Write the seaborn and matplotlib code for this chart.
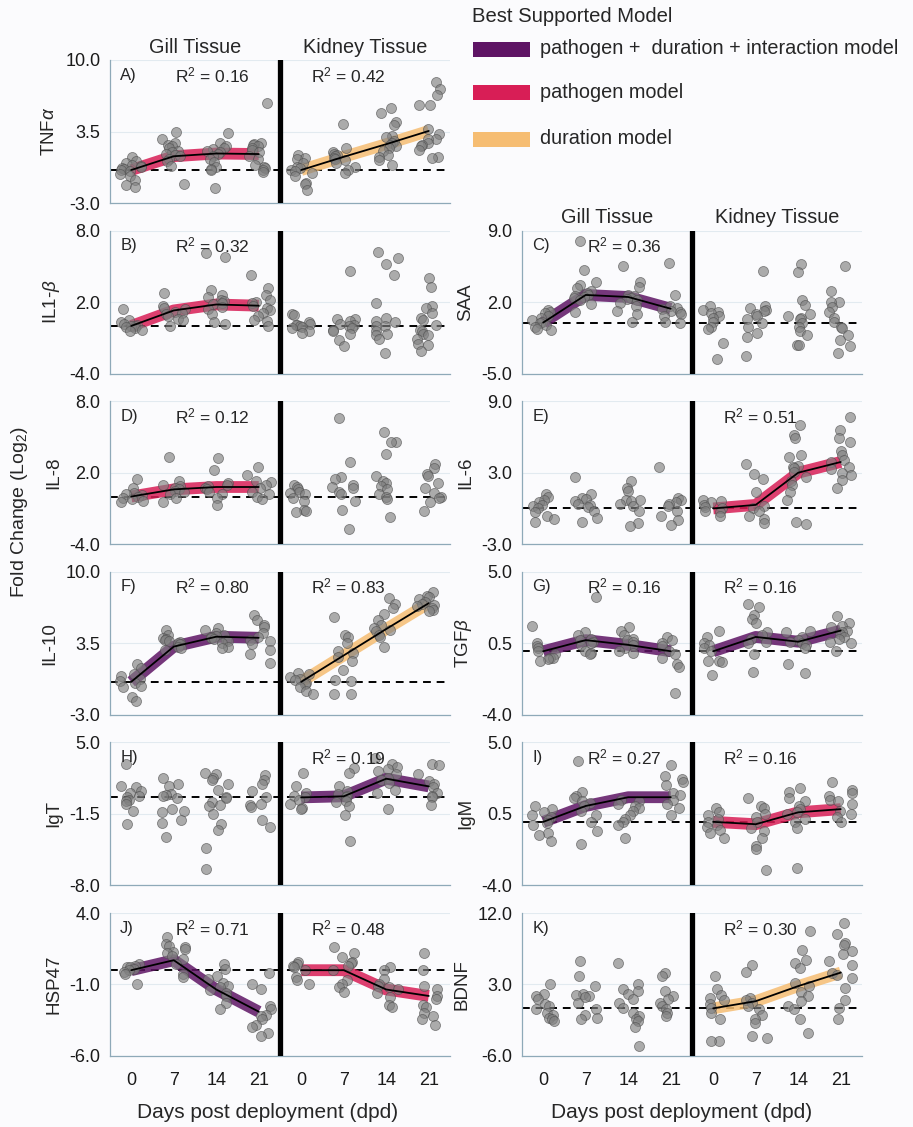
import numpy as np
import pandas as pd
import matplotlib
matplotlib.use("Agg")
import matplotlib.pyplot as plt
import matplotlib.transforms as mtransforms
from matplotlib.patches import Rectangle
import seaborn as sns

# ---------------- data ----------------
DAY_LABELS = ["0", "7", "14", "21"]
TISSUES = ["Gill Tissue", "Kidney Tissue"]
LEGEND_TITLE = "Best Supported Model"
MODEL_NAMES = ["pathogen +  duration + interaction model", "pathogen model", "duration model"]
MODEL_KEYS = ["interaction", "pathogen", "duration"]

TNFA_GILL = [
    [1.2, 0.8, 0.6, 0.5, 0.4, 0.3, 0.2, 0.1, 0.0, -0.1, -0.4, -0.5, -0.9, -1.4, -1.5],
    [3.5, 2.8, 2.5, 2.3, 2.2, 2.0, 1.7, 1.6, 1.5, 1.4, 1.3, 1.0, 0.8, 0.4, -1.3],
    [3.4, 2.5, 2.2, 2.0, 1.9, 1.7, 1.6, 1.5, 1.3, 1.0, 0.7, 0.3, 0.1, 0.0, -1.6],
    [6.1, 2.5, 2.4, 2.3, 2.2, 2.0, 1.8, 1.6, 1.3, 1.0, 0.5, 0.3, 0.2, 0.0, -0.2],
]
TNFA_KIDNEY = [
    [1.4, 1.1, 1.0, 0.6, 0.3, 0.2, 0.0, -0.1, -0.3, -0.5, -1.2, -1.3, -1.8],
    [4.2, 2.0, 1.6, 1.5, 1.4, 1.3, 1.1, 1.0, 0.9, 0.6, 0.3, 0.0, -0.3],
    [5.6, 5.2, 4.4, 4.1, 3.1, 3.0, 2.6, 2.5, 2.3, 2.2, 2.0, 1.7, 1.4, 1.2, 0.9, 0.5],
    [8.0, 7.4, 6.8, 5.9, 5.9, 3.7, 3.3, 2.8, 2.8, 2.5, 2.3, 2.2, 1.8, 1.2, 1.1],
]
TNFA_GILL_FIT = [0.0, 1.25, 1.5, 1.45]
TNFA_KIDNEY_FIT = [0.0, 1.2, 2.35, 3.55]

IL1B_GILL = [
    [1.4, 0.5, 0.3, 0.2, 0.1, 0.0, 0.0, -0.1, -0.2, -0.3, -0.4],
    [2.8, 1.7, 1.5, 1.4, 1.2, 1.1, 1.0, 0.8, 0.6, 0.5, 0.0],
    [6.1, 5.8, 3.0, 2.6, 2.4, 2.2, 2.1, 1.9, 1.8, 1.6, 1.4, 1.0, 0.3, 0.2],
    [4.3, 3.2, 2.6, 2.2, 2.0, 1.9, 1.7, 1.5, 1.3, 1.1, 0.8, 0.5, 0.4, 0.0],
]
IL1B_KIDNEY = [
    [1.0, 0.9, 0.3, 0.2, 0.1, 0.1, 0.0, -0.1, -0.2, -0.4, -0.6],
    [4.6, 0.6, 0.6, 0.4, 0.2, 0.1, 0.0, -0.2, -0.3, -0.4, -0.7, -1.2, -1.7],
    [6.2, 5.7, 5.2, 4.3, 1.9, 0.7, 0.4, 0.3, 0.0, 0.0, -0.4, -0.7, -0.8, -1.1, -2.3],
    [4.0, 3.3, 1.7, 1.5, 1.1, 0.7, 0.5, 0.1, -0.3, -0.4, -0.7, -0.8, -1.1, -1.5, -1.6, -2.1],
]
IL1B_GILL_FIT = [0.0, 1.3, 1.8, 1.7]

SAA_GILL = [
    [1.2, 1.0, 0.9, 0.6, 0.4, 0.2, 0.1, 0.0, -0.2, -0.4, -0.6, -0.7],
    [8.0, 5.1, 4.0, 3.7, 3.4, 3.1, 2.9, 2.7, 2.6, 2.5, 2.4, 2.2, 1.8, 1.0],
    [5.5, 4.0, 3.5, 2.7, 2.6, 2.4, 2.3, 2.2, 1.9, 1.6, 1.1, 0.8, 0.1],
    [5.8, 2.7, 1.6, 1.4, 1.3, 1.1, 1.0, 0.8, 0.6, 0.1, 0.0],
]
SAA_KIDNEY = [
    [1.6, 1.2, 1.0, 0.9, 0.6, 0.4, 0.1, -0.4, -0.6, -2.0, -3.6],
    [5.0, 1.6, 1.4, 1.2, 1.1, 0.8, 0.6, 0.3, 0.0, -0.4, -1.0, -1.4, -3.3],
    [5.7, 4.9, 2.2, 1.7, 0.8, 0.6, 0.4, 0.3, 0.0, -0.4, -0.8, -1.2, -2.2, -2.2],
    [5.5, 3.1, 2.0, 2.0, 1.5, 1.0, 0.4, 0.1, -0.4, -0.5, -1.2, -1.7, -2.3, -3.0],
]
SAA_GILL_FIT = [0.0, 2.7, 2.5, 1.35]

IL8_GILL = [
    [1.5, 0.7, 0.3, 0.2, 0.1, 0.0, -0.1, -0.2, -0.4, -0.5],
    [3.3, 1.3, 1.0, 0.9, 0.7, 0.6, 0.5, 0.4, 0.2, -0.1, -0.5],
    [3.2, 2.2, 1.1, 1.0, 0.9, 0.7, 0.6, 0.4, 0.2, -0.1, -0.7],
    [2.5, 1.8, 1.3, 1.2, 1.0, 0.7, 0.4, 0.2, 0.0, -0.2],
]
IL8_KIDNEY = [
    [1.0, 0.8, 0.6, 0.4, 0.3, 0.2, -0.1, -0.4, -1.1, -1.2, -1.3],
    [6.6, 2.9, 1.6, 1.5, 1.0, 0.8, 0.7, 0.4, 0.2, -0.4, -1.1, -2.7],
    [5.4, 4.6, 4.6, 3.6, 1.7, 1.3, 1.1, 0.9, 0.6, 0.2, 0.0, -0.2, -1.7],
    [2.7, 2.4, 1.9, 1.7, 1.1, 0.7, 0.3, 0.0, -0.1, -0.5, -1.2],
]
IL8_GILL_FIT = [0.0, 0.6, 0.8, 0.8]

IL6_GILL = [
    [1.2, 1.0, 0.7, 0.5, 0.3, 0.2, 0.0, -0.3, -0.6, -0.9, -1.1],
    [2.6, 1.2, 0.9, 0.8, 0.6, 0.4, 0.3, 0.1, -0.2, -0.8, -1.1],
    [2.3, 1.7, 1.5, 0.7, 0.7, 0.6, 0.4, 0.2, -0.2, -1.2, -1.5],
    [3.5, 0.9, 0.7, 0.5, 0.4, 0.2, -0.2, -0.6, -1.0, -1.4],
]
IL6_KIDNEY = [
    [0.7, 0.6, 0.5, 0.3, 0.1, 0.0, -0.2, -0.3, -0.6],
    [3.7, 2.9, 2.5, 1.4, 0.2, 0.0, -0.2, -0.6, -0.9, -1.2],
    [7.0, 6.2, 5.9, 4.5, 4.3, 3.6, 3.5, 3.4, 3.1, 2.6, 2.3, 2.0, 1.4, 0.7, -1.1, -1.3],
    [7.7, 6.6, 5.9, 5.6, 4.8, 4.5, 4.1, 3.9, 3.5, 3.3, 3.0, 2.8, 2.4, 1.7],
]
IL6_KIDNEY_FIT = [0.0, 0.3, 3.0, 3.9]

IL10_GILL = [
    [1.6, 1.3, 0.7, 0.5, 0.3, 0.1, -0.1, -0.4, -0.5, -1.4, -1.7],
    [4.7, 4.3, 4.0, 3.9, 3.8, 3.7, 3.6, 3.5, 3.4, 3.2, 3.1, 2.9],
    [4.9, 4.7, 4.4, 4.3, 4.2, 4.1, 4.0, 3.9, 3.8, 3.7, 3.5, 3.2, 3.1],
    [6.1, 5.6, 5.2, 5.0, 4.4, 4.1, 3.8, 3.7, 3.4, 2.9, 2.5, 1.7],
]
IL10_KIDNEY = [
    [0.8, 0.7, 0.4, 0.3, 0.2, -0.1, -0.2, -0.5, -0.8, -1.1],
    [5.9, 4.3, 4.1, 3.5, 2.8, 2.6, 2.3, 1.9, 1.1, 0.2, 0.1, -1.1, -1.1],
    [7.6, 7.1, 6.7, 6.2, 5.6, 5.2, 4.9, 4.7, 4.6, 4.3, 4.1, 3.2],
    [8.2, 7.8, 7.7, 7.5, 7.3, 7.1, 7.0, 6.9, 6.7, 6.5, 6.4],
]
IL10_GILL_FIT = [0.0, 3.2, 4.1, 4.0]
IL10_KIDNEY_FIT = [0.0, 2.4, 4.8, 7.15]

TGFB_GILL = [
    [1.6, 0.5, 0.3, 0.2, 0.0, -0.2, -0.4, -0.4, -0.5, -0.6],
    [3.4, 1.2, 1.0, 0.8, 0.7, 0.6, 0.5, 0.4, 0.0, -0.1, -0.2],
    [1.5, 1.3, 1.0, 0.8, 0.7, 0.6, 0.4, 0.2, 0.0, -0.1],
    [0.9, 0.7, 0.5, 0.3, 0.0, -0.2, -0.4, -0.8, -1.0, -2.6],
]
TGFB_KIDNEY = [
    [1.3, 0.9, 0.5, 0.4, 0.2, 0.0, -0.6, -0.6, -0.7, -1.5],
    [3.0, 2.8, 2.3, 2.0, 1.8, 1.2, 1.0, 0.8, 0.6, 0.5, -0.2, -1.3],
    [1.3, 1.2, 0.9, 0.7, 0.6, 0.5, 0.4, 0.2, -0.8, -1.4],
    [2.2, 1.8, 1.6, 1.5, 1.3, 1.2, 1.1, 0.9, 0.8, 0.6, 0.5, 0.0],
]
TGFB_GILL_FIT = [0.0, 0.7, 0.4, 0.0]
TGFB_KIDNEY_FIT = [0.0, 0.9, 0.6, 1.3]

IGT_GILL = [
    [3.0, 1.0, 0.9, 0.6, 0.4, 0.1, 0.0, -0.2, -0.3, -0.6, -1.2, -2.4],
    [1.8, 1.2, 1.0, 0.3, 0.2, 0.1, -0.1, -1.1, -1.2, -1.3, -2.1, -2.3, -3.6],
    [2.2, 2.1, 1.8, 1.6, 1.2, 0.7, 0.0, -0.1, -0.4, -0.7, -0.8, -1.5, -2.4, -3.0, -4.6, -6.5],
    [2.0, 1.6, 1.2, 0.6, 0.0, -0.6, -0.7, -0.9, -2.1, -2.7],
]
IGT_KIDNEY = [
    [2.2, 1.0, 0.4, 0.1, 0.0, -0.2, -0.6, -1.0, -1.1],
    [2.7, 2.2, 1.0, 0.6, 0.3, 0.1, 0.0, -0.3, -0.4, -0.8, -1.6, -4.0],
    [3.6, 3.0, 2.8, 2.6, 2.4, 2.1, 1.8, 1.6, 1.3, 0.7, 0.4, -1.1],
    [3.0, 2.9, 2.1, 1.5, 1.2, 0.9, 0.4, 0.1, 0.0, -0.7],
]
IGT_KIDNEY_FIT = [0.0, 0.1, 1.7, 1.0]

IGM_GILL = [
    [1.0, 0.8, 0.6, 0.4, 0.3, 0.1, -0.1, -0.2, -0.7, -0.8, -1.2],
    [3.8, 1.9, 1.6, 1.5, 1.3, 1.2, 1.0, 0.7, 0.4, 0.0, -0.6, -1.4],
    [1.4, 1.3, 1.1, 1.0, 0.9, 0.7, 0.4, 0.2, 0.0, -0.2, -1.0],
    [3.6, 2.9, 2.7, 2.5, 2.3, 1.8, 1.7, 1.4, 1.1, 0.9, 0.4],
]
IGM_KIDNEY = [
    [0.9, 0.6, 0.4, 0.2, 0.0, -0.2, -0.3, -0.5, -0.7, -1.0],
    [1.5, 1.0, 0.9, 0.5, 0.3, 0.0, -0.4, -0.6, -1.0, -1.5, -1.7, -3.0],
    [2.1, 1.9, 1.5, 1.3, 1.0, 0.8, 0.6, 0.5, 0.2, 0.0, -0.4, -2.9],
    [2.5, 2.0, 1.8, 1.6, 1.4, 1.3, 1.1, 0.7, 0.5, 0.3, 0.0],
]
IGM_GILL_FIT = [0.0, 1.0, 1.55, 1.55]
IGM_KIDNEY_FIT = [0.0, -0.15, 0.6, 0.8]

HSP47_GILL = [
    [0.4, 0.3, 0.2, 0.2, 0.1, 0.0, -0.1, -0.3, -1.0],
    [2.3, 1.8, 1.7, 1.6, 1.5, 1.3, 1.2, 1.0, 0.8, 0.4, -0.3, -0.5],
    [0.4, 0.1, -0.4, -0.6, -0.9, -1.1, -1.2, -1.4, -1.6, -1.8, -2.3, -2.7],
    [-0.2, -1.0, -1.3, -2.5, -2.7, -3.1, -3.2, -3.4, -3.8, -4.0, -4.4, -4.6],
]
HSP47_KIDNEY = [
    [0.6, 0.4, 0.3, 0.2, 0.0, -0.5, -0.7, -1.0],
    [1.6, 1.2, 0.9, 0.6, 0.5, 0.3, 0.0, -0.7, -1.0, -1.2, -1.5],
    [0.2, 0.0, -0.6, -1.0, -1.1, -1.2, -1.3, -1.6, -1.9, -2.4, -2.6],
    [1.2, 0.0, -1.1, -1.3, -1.8, -2.0, -2.4, -2.6, -3.0, -3.2, -3.4, -3.8],
]
HSP47_GILL_FIT = [0.0, 0.7, -1.35, -2.9]
HSP47_KIDNEY_FIT = [0.0, 0.0, -1.35, -1.8]

BDNF_GILL = [
    [3.0, 1.8, 1.6, 1.2, 0.5, 0.3, -0.1, -0.6, -0.8, -1.2, -1.4, -1.6],
    [5.9, 4.1, 2.8, 1.8, 1.7, 1.6, 1.4, 0.7, -0.1, -0.8, -1.2, -1.4],
    [5.7, 3.0, 2.4, 2.2, 1.8, 1.2, 0.7, 0.1, -0.6, -1.0, -1.4, -1.6, -2.4, -4.7],
    [4.5, 4.1, 2.2, 1.6, 1.2, 0.7, 0.3, -0.1, -0.6, -1.0],
]
BDNF_KIDNEY = [
    [4.1, 2.4, 1.7, 1.3, 1.1, 0.5, 0.1, -0.6, -1.4, -4.1, -4.1],
    [5.4, 4.6, 1.3, 1.1, 0.7, 0.3, -0.1, -0.8, -1.3, -1.8, -3.5, -3.7],
    [9.7, 7.4, 6.1, 5.7, 5.1, 3.2, 2.8, 2.0, 1.5, 0.9, 0.3, -0.1, -1.4, -3.1],
    [10.7, 9.3, 8.2, 8.0, 7.2, 6.8, 5.9, 5.5, 4.5, 4.2, 3.8, 2.6, 1.1, 0.1, -1.4],
]
BDNF_KIDNEY_FIT = [0.0, 0.9, 2.8, 4.5]

# y tick labels for each gene (min, mid, max)
TNFA_TICKS = [-3.0, 3.5, 10.0]
IL1B_TICKS = [-4.0, 2.0, 8.0]
SAA_TICKS = [-5.0, 2.0, 9.0]
IL8_TICKS = [-4.0, 2.0, 8.0]
IL6_TICKS = [-3.0, 3.0, 9.0]
IL10_TICKS = [-3.0, 3.5, 10.0]
TGFB_TICKS = [-4.0, 0.5, 5.0]
IGT_TICKS = [-8.0, -1.5, 5.0]
IGM_TICKS = [-4.0, 0.5, 5.0]
HSP47_TICKS = [-6.0, -1.0, 4.0]
BDNF_TICKS = [-6.0, 3.0, 12.0]

# panel: letter, gene label, ticks, gill data, kidney data, gill fit, kidney fit,
#        gill model, kidney model, gill R2, kidney R2, column, row
PANELS = [
    ("A)", "TNF$\\alpha$", TNFA_TICKS, TNFA_GILL, TNFA_KIDNEY, TNFA_GILL_FIT, TNFA_KIDNEY_FIT,
     "pathogen", "duration", "0.16", "0.42", 0, 0),
    ("B)", "IL1-$\\beta$", IL1B_TICKS, IL1B_GILL, IL1B_KIDNEY, IL1B_GILL_FIT, None,
     "pathogen", None, "0.32", None, 0, 1),
    ("C)", "SAA", SAA_TICKS, SAA_GILL, SAA_KIDNEY, SAA_GILL_FIT, None,
     "interaction", None, "0.36", None, 1, 1),
    ("D)", "IL-8", IL8_TICKS, IL8_GILL, IL8_KIDNEY, IL8_GILL_FIT, None,
     "pathogen", None, "0.12", None, 0, 2),
    ("E)", "IL-6", IL6_TICKS, IL6_GILL, IL6_KIDNEY, None, IL6_KIDNEY_FIT,
     None, "pathogen", None, "0.51", 1, 2),
    ("F)", "IL-10", IL10_TICKS, IL10_GILL, IL10_KIDNEY, IL10_GILL_FIT, IL10_KIDNEY_FIT,
     "interaction", "duration", "0.80", "0.83", 0, 3),
    ("G)", "TGF$\\beta$", TGFB_TICKS, TGFB_GILL, TGFB_KIDNEY, TGFB_GILL_FIT, TGFB_KIDNEY_FIT,
     "interaction", "interaction", "0.16", "0.16", 1, 3),
    ("H)", "IgT", IGT_TICKS, IGT_GILL, IGT_KIDNEY, None, IGT_KIDNEY_FIT,
     None, "interaction", None, "0.19", 0, 4),
    ("I)", "IgM", IGM_TICKS, IGM_GILL, IGM_KIDNEY, IGM_GILL_FIT, IGM_KIDNEY_FIT,
     "interaction", "pathogen", "0.27", "0.16", 1, 4),
    ("J)", "HSP47", HSP47_TICKS, HSP47_GILL, HSP47_KIDNEY, HSP47_GILL_FIT, HSP47_KIDNEY_FIT,
     "interaction", "pathogen", "0.71", "0.48", 0, 5),
    ("K)", "BDNF", BDNF_TICKS, BDNF_GILL, BDNF_KIDNEY, None, BDNF_KIDNEY_FIT,
     None, "duration", None, "0.30", 1, 5),
]

# ---------------- style ----------------
MODEL_COLORS = {"interaction": "#5e1464", "pathogen": "#d81e56", "duration": "#f6bd72"}
BG = "#fbfbfd"
SPINE = "#8ea9b8"
GRID = "#e2eaf0"

sns.set_theme(style="white")
plt.rcParams["font.family"] = ["Liberation Sans", "DejaVu Sans"]
plt.rcParams["mathtext.fontset"] = "custom"
plt.rcParams["mathtext.rm"] = "Liberation Sans"
plt.rcParams["mathtext.it"] = "Liberation Sans:italic"
plt.rcParams["axes.unicode_minus"] = False

np.random.seed(3)

W, H = 913, 1127
fig = plt.figure(figsize=(W / 100, H / 100), dpi=100, facecolor=BG)

COL_LEFT = [110, 522]
AX_W = 340
AX_H = 143
ROW_TOP = [60 + i * 170.6 for i in range(6)]
FS = 12.5


def draw_panel(spec):
    (letter, gene, ticks, gill, kidney, gfit, kfit, gmodel, kmodel,
     gr2, kr2, col, row) = spec
    left = COL_LEFT[col] / W
    bottom = 1 - (ROW_TOP[row] + AX_H) / H
    ax = fig.add_axes([left, bottom, AX_W / W, AX_H / H])
    ax.set_facecolor(BG)

    rows = []
    for t_i, groups in enumerate([gill, kidney]):
        for d_i, vals in enumerate(groups):
            for v in vals:
                rows.append({"pos": t_i * 4 + d_i, "value": v})
    df = pd.DataFrame(rows)

    ax.axhline(0, color="black", lw=1.4, ls=(0, (4, 3)), zorder=1.5)

    fits = [(gfit, gmodel, 0), (kfit, kmodel, 4)]
    for fit, model, off in fits:
        if fit is None:
            continue
        fdf = pd.DataFrame({"pos": np.arange(4) + off, "value": fit})
        sns.lineplot(data=fdf, x="pos", y="value", color=MODEL_COLORS[model], lw=8.5,
                     alpha=0.85, solid_capstyle="butt", legend=False, ax=ax, zorder=2)

    sns.stripplot(data=df, x="pos", y="value", native_scale=True, jitter=0.28,
                  color="#808080", alpha=0.65, size=7.2, linewidth=0.6,
                  edgecolor="#505050", ax=ax, zorder=3)

    for fit, model, off in fits:
        if fit is None:
            continue
        fdf = pd.DataFrame({"pos": np.arange(4) + off, "value": fit})
        sns.lineplot(data=fdf, x="pos", y="value", color="black", lw=1.3,
                     legend=False, ax=ax, zorder=4)

    ax.axvline(3.5, color="black", lw=3.8, zorder=6)

    ax.set_xlim(-0.5, 7.5)
    ax.set_ylim(ticks[0], ticks[-1])
    ax.set_yticks(ticks)
    ax.set_yticklabels([f"{t:.1f}" for t in ticks], fontsize=FS + 0.5, color="#1a1a1a")
    ax.set_xticks(range(8))
    if row == 5:
        ax.set_xticklabels(DAY_LABELS * 2, fontsize=FS + 0.5, color="#1a1a1a")
    else:
        ax.set_xticklabels([])
    ax.tick_params(axis="y", length=0, pad=7)
    ax.tick_params(axis="x", length=3.5, width=0.8, color=SPINE, pad=8, direction="out")
    ax.yaxis.grid(True, color=GRID, lw=0.8)
    ax.xaxis.grid(False)
    for s in ["top", "right"]:
        ax.spines[s].set_visible(False)
    for s in ["left", "bottom"]:
        ax.spines[s].set_color(SPINE)
        ax.spines[s].set_linewidth(0.9)
    ax.set_xlabel("")
    ax.set_ylabel(gene, fontsize=FS + 1, labelpad=5)

    trans = mtransforms.blended_transform_factory(ax.transData, ax.transAxes)
    ax.text(0.03, 0.895, letter, transform=ax.transAxes, fontsize=FS - 0.5,
            ha="left", va="center", zorder=7)
    if gr2 is not None:
        ax.text(1.9, 0.895, f"R$^2$ = {gr2}", transform=trans, fontsize=FS,
                ha="center", va="center", zorder=7)
    if kr2 is not None:
        ax.text(5.1, 0.895, f"R$^2$ = {kr2}", transform=trans, fontsize=FS,
                ha="center", va="center", zorder=7)
    if row == col:  # top panel of each column gets tissue headers
        ax.text(1.5, 1.09, TISSUES[0], transform=trans, fontsize=14.3,
                ha="center", va="center")
        ax.text(5.5, 1.09, TISSUES[1], transform=trans, fontsize=14.3,
                ha="center", va="center")
    return ax


for spec in PANELS:
    draw_panel(spec)

# shared labels
fig.text(20 / W, 1 - 512 / H, "Fold Change (Log$_2$)", rotation=90, fontsize=14,
         ha="center", va="center")
fig.text(268 / W, 1 - 1113 / H, "Days post deployment (dpd)", fontsize=15,
         ha="center", va="center")
fig.text(682 / W, 1 - 1113 / H, "Days post deployment (dpd)", fontsize=15,
         ha="center", va="center")

# legend (drawn as figure-level patches and labels)
fig.text(472 / W, 1 - 16 / H, LEGEND_TITLE, fontsize=14.6, ha="left", va="center")
for i, (key, name) in enumerate(zip(MODEL_KEYS, MODEL_NAMES)):
    yc = [49, 92, 139][i]
    fig.add_artist(Rectangle((473 / W, 1 - (yc + 7.5) / H), 57 / W, 15 / H,
                             transform=fig.transFigure, facecolor=MODEL_COLORS[key],
                             edgecolor="none"))
    fig.text(540 / W, 1 - yc / H, name, fontsize=14.3, ha="left", va="center")

fig.savefig("out.png", dpi=100, facecolor=BG)
